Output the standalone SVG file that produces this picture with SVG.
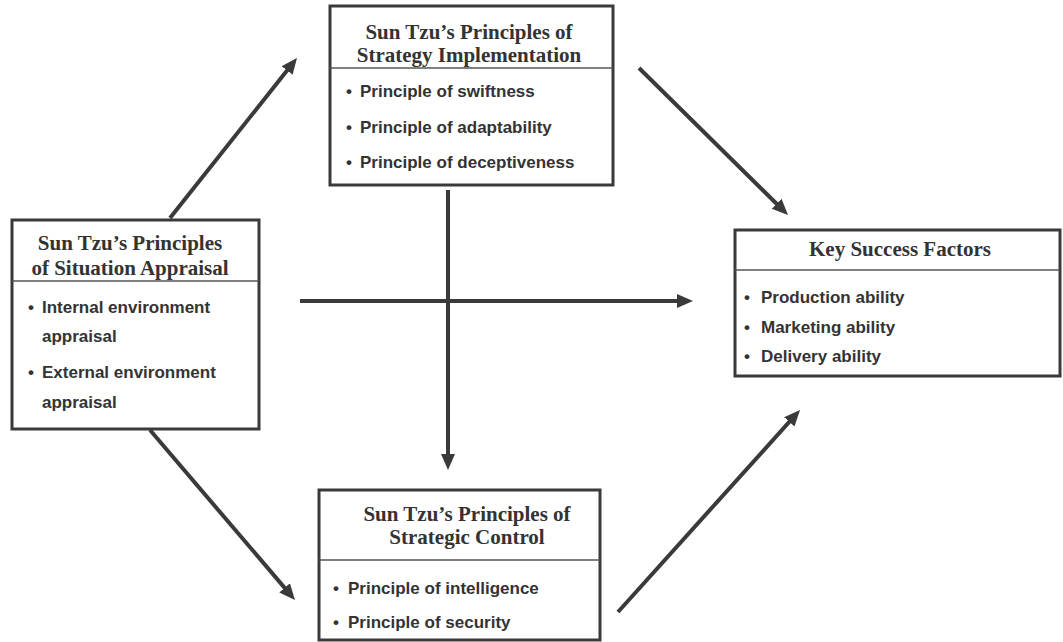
<svg xmlns="http://www.w3.org/2000/svg" width="1063" height="642" viewBox="0 0 1063 642">
<defs>
<marker id="ah" markerUnits="userSpaceOnUse" markerWidth="18" markerHeight="16" refX="6" refY="7" orient="auto">
<path d="M0,0 L16,7 L0,14 z" fill="#3a3a3a"/>
</marker>
<style>
.box{fill:#fff;stroke:#3a3a3a;stroke-width:3}
.div{stroke:#555;stroke-width:1.5}
.title{font-family:"Liberation Serif","Times New Roman",serif;font-weight:bold;font-size:21px;fill:#333;text-anchor:middle}
.item{font-family:"Liberation Sans",Arial,sans-serif;font-weight:bold;font-size:17px;fill:#333}
.conn{stroke:#3a3a3a;stroke-width:4;fill:none;marker-end:url(#ah)}
</style>
</defs>
<rect width="1063" height="642" fill="#fff"/>
<g id="connectors">
<line class="conn" x1="170" y1="218" x2="290.8" y2="65.8"/>
<line class="conn" x1="639" y1="68" x2="780.9" y2="208"/>
<line class="conn" x1="300" y1="301" x2="683" y2="301"/>
<line class="conn" x1="448" y1="190" x2="448" y2="460"/>
<line class="conn" x1="150" y1="430" x2="288.5" y2="592.4"/>
<line class="conn" x1="618" y1="612" x2="793.3" y2="417.4"/>
</g>
<g id="node-implementation">
<rect class="box" x="330" y="6" width="283" height="179"/>
<line class="div" x1="330" y1="68" x2="613" y2="68"/>
<text class="title" x="469" y="39">Sun Tzu’s Principles of</text>
<text class="title" x="469" y="62">Strategy Implementation</text>
<text class="item" x="346" y="97">•<tspan x="360">Principle of swiftness</tspan></text>
<text class="item" x="346" y="133">•<tspan x="360">Principle of adaptability</tspan></text>
<text class="item" x="346" y="168">•<tspan x="360">Principle of deceptiveness</tspan></text>
</g>
<g id="node-appraisal">
<rect class="box" x="12" y="220" width="247" height="209"/>
<line class="div" x1="12" y1="281" x2="259" y2="281"/>
<text class="title" x="130" y="250">Sun Tzu’s Principles</text>
<text class="title" x="130" y="275">of Situation Appraisal</text>
<text class="item" x="28" y="313">•<tspan x="42">Internal environment</tspan></text>
<text class="item" x="42" y="342">appraisal</text>
<text class="item" x="28" y="378">•<tspan x="42">External environment</tspan></text>
<text class="item" x="42" y="408">appraisal</text>
</g>
<g id="node-ksf">
<rect class="box" x="735" y="230" width="325" height="146"/>
<line class="div" x1="735" y1="270" x2="1060" y2="270"/>
<text class="title" x="900" y="256">Key Success Factors</text>
<text class="item" x="744" y="303">•<tspan x="761">Production ability</tspan></text>
<text class="item" x="744" y="333">•<tspan x="761">Marketing ability</tspan></text>
<text class="item" x="744" y="362">•<tspan x="761">Delivery ability</tspan></text>
</g>
<g id="node-control">
<rect class="box" x="319" y="490" width="281" height="150"/>
<line class="div" x1="319" y1="560" x2="600" y2="560"/>
<text class="title" x="467" y="521">Sun Tzu’s Principles of</text>
<text class="title" x="467" y="544">Strategic Control</text>
<text class="item" x="333" y="594">•<tspan x="348">Principle of intelligence</tspan></text>
<text class="item" x="333" y="628">•<tspan x="348">Principle of security</tspan></text>
</g>
</svg>
